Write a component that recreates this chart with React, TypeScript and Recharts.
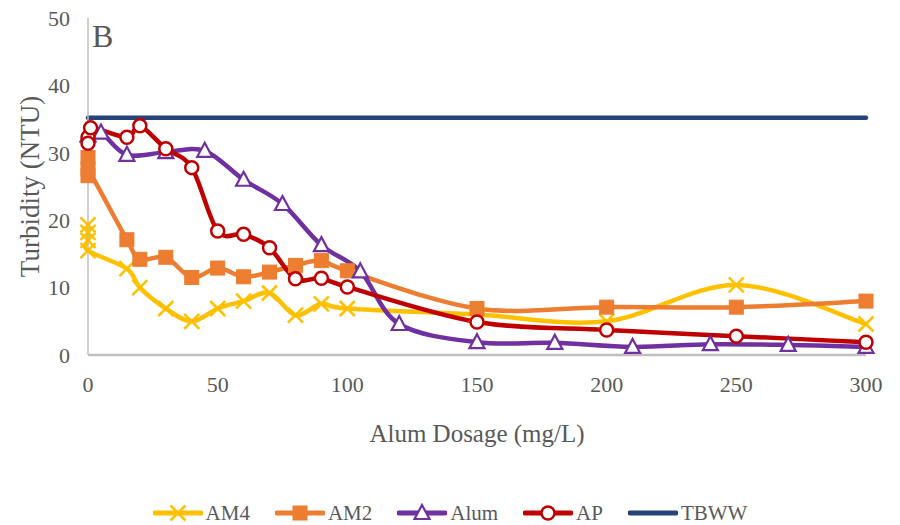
import { Legend, Line, LineChart, XAxis, YAxis } from 'recharts'

const FONT = '"Liberation Serif", "Times New Roman", serif'
const TEXT = '#595959'

// Alum dosage (mg/L) and turbidity (NTU) per series; repeated 0 doses are replicate readings.
const am4Dose = [0, 0, 0, 0, 15, 20, 30, 40, 50, 60, 70, 80, 90, 100, 150, 200, 250, 300]
const am4Turb = [19.3, 18.2, 17.0, 15.5, 12.8, 10.0, 6.9, 5.0, 6.9, 8.0, 9.2, 5.9, 7.6, 6.9, 6.0, 5.0, 10.4, 4.6]

const am2Dose = [0, 0, 0, 15, 20, 30, 40, 50, 60, 70, 80, 90, 100, 150, 200, 250, 300]
const am2Turb = [29.3, 26.6, 27.6, 17.1, 14.2, 14.5, 11.5, 12.9, 11.6, 12.3, 13.3, 14.0, 12.5, 6.9, 7.1, 7.1, 8.0]

const alumDose = [0, 5, 15, 30, 45, 60, 75, 90, 105, 120, 150, 180, 210, 240, 270, 300]
const alumTurb = [32.6, 33.0, 29.7, 30.1, 30.3, 26.0, 22.4, 16.3, 12.4, 4.6, 1.9, 1.8, 1.2, 1.6, 1.5, 1.2]

const apDose = [0, 0, 1, 15, 20, 30, 40, 50, 60, 70, 80, 90, 100, 150, 200, 250, 300]
const apTurb = [32.3, 31.4, 33.7, 32.3, 34.0, 30.6, 27.8, 18.4, 17.9, 15.9, 11.3, 11.4, 10.1, 4.9, 3.7, 2.8, 1.9]

const tbwwDose = [0, 300]
const tbwwTurb = [35.2, 35.2]

const xTicks = [0, 50, 100, 150, 200, 250, 300]
const yTicks = [0, 10, 20, 30, 40, 50]

const toRows = (xs: number[], ys: number[]) => xs.map((x, i) => ({ x, y: ys[i] }))

type Marker = 'x' | 'square' | 'triangle' | 'circle' | 'none'

const SERIES = [
  { name: 'AM4', color: '#FFC000', marker: 'x' as Marker, data: toRows(am4Dose, am4Turb) },
  { name: 'AM2', color: '#ED7D31', marker: 'square' as Marker, data: toRows(am2Dose, am2Turb) },
  { name: 'Alum', color: '#7030A0', marker: 'triangle' as Marker, data: toRows(alumDose, alumTurb) },
  { name: 'AP', color: '#C00000', marker: 'circle' as Marker, data: toRows(apDose, apTurb) },
  { name: 'TBWW', color: '#264478', marker: 'none' as Marker, data: toRows(tbwwDose, tbwwTurb) },
]

// Excel-like smoothing (uniform Catmull-Rom), handed to Recharts as a d3 curve factory.
function smoothCurve(context: any) {
  let pts: [number, number][] = []
  return {
    areaStart() {},
    areaEnd() {},
    lineStart() {
      pts = []
    },
    point(x: number, y: number) {
      pts.push([+x, +y])
    },
    lineEnd() {
      const n = pts.length
      if (!n) return
      context.moveTo(pts[0][0], pts[0][1])
      for (let i = 0; i < n - 1; i++) {
        const p0 = pts[i - 1] || pts[i]
        const p1 = pts[i]
        const p2 = pts[i + 1]
        const p3 = pts[i + 2] || p2
        context.bezierCurveTo(
          p1[0] + (p2[0] - p0[0]) / 6,
          p1[1] + (p2[1] - p0[1]) / 6,
          p2[0] - (p3[0] - p1[0]) / 6,
          p2[1] - (p3[1] - p1[1]) / 6,
          p2[0],
          p2[1],
        )
      }
    },
  }
}

function MarkerShape({ kind, color, cx, cy }: { kind: Marker; color: string; cx: number; cy: number }) {
  if (kind === 'x') {
    const s = 7.5
    return (
      <g stroke={color} strokeWidth={2.5}>
        <line x1={cx - s} y1={cy - s} x2={cx + s} y2={cy + s} />
        <line x1={cx - s} y1={cy + s} x2={cx + s} y2={cy - s} />
      </g>
    )
  }
  if (kind === 'square') {
    return <rect x={cx - 7} y={cy - 7} width={14} height={14} fill={color} stroke={color} strokeWidth={1} />
  }
  if (kind === 'triangle') {
    return (
      <path
        d={`M${cx},${cy - 8} L${cx + 7.5},${cy + 6} L${cx - 7.5},${cy + 6} Z`}
        fill="#fff"
        stroke={color}
        strokeWidth={2.2}
        strokeLinejoin="miter"
      />
    )
  }
  if (kind === 'circle') {
    return <circle cx={cx} cy={cy} r={6.5} fill="#fff" stroke={color} strokeWidth={2.5} />
  }
  return null
}

function LegendContent() {
  return (
    <div
      style={{
        height: 24,
        display: 'flex',
        justifyContent: 'center',
        alignItems: 'center',
        gap: 25,
        fontFamily: FONT,
        fontSize: 21,
        color: TEXT,
      }}
    >
      {SERIES.map((s) => (
        <div key={s.name} style={{ display: 'flex', alignItems: 'center', gap: 3 }}>
          <svg width={50} height={20}>
            <line x1={2} y1={10} x2={48} y2={10} stroke={s.color} strokeWidth={5} strokeLinecap="round" />
            <MarkerShape kind={s.marker} color={s.color} cx={25} cy={10} />
          </svg>
          <span>{s.name}</span>
        </div>
      ))}
    </div>
  )
}

export default function App() {
  const tick = { fill: TEXT, fontSize: 22, fontFamily: FONT }
  return (
    <div style={{ position: 'absolute', left: 0, top: 0, width: 900, height: 525, background: '#fff' }}>
      <LineChart width={900} height={525} margin={{ top: 18, right: 34, left: 0, bottom: 0 }}>
        <XAxis
          type="number"
          dataKey="x"
          domain={[0, 300]}
          ticks={xTicks}
          tick={tick}
          tickLine={false}
          tickSize={0}
          tickMargin={21}
          height={146}
          axisLine={{ stroke: '#BFBFBF', strokeWidth: 2.5 }}
          label={({ viewBox }: any) => (
            <text
              x={viewBox.x + viewBox.width / 2}
              y={viewBox.y + 78}
              textAnchor="middle"
              dominantBaseline="central"
              fill={TEXT}
              fontSize={25}
              fontFamily={FONT}
            >
              Alum Dosage (mg/L)
            </text>
          )}
        />
        <YAxis
          type="number"
          dataKey="y"
          domain={[0, 50]}
          ticks={yTicks}
          tick={tick}
          tickLine={false}
          tickSize={0}
          tickMargin={18}
          width={88}
          axisLine={{ stroke: '#BFBFBF', strokeWidth: 1.5 }}
          label={({ viewBox }: any) => {
            const cy = viewBox.y + viewBox.height / 2
            return (
              <text
                x={30}
                y={cy}
                transform={`rotate(-90, 30, ${cy})`}
                textAnchor="middle"
                dominantBaseline="central"
                fill={TEXT}
                fontSize={27}
                fontFamily={FONT}
              >
                Turbidity (NTU)
              </text>
            )
          }}
        />
        <Legend
          verticalAlign="bottom"
          height={24}
          wrapperStyle={{ left: 0, width: 900 }}
          content={() => <LegendContent />}
        />
        {SERIES.map((s) => (
          <Line
            key={s.name}
            name={s.name}
            data={s.data}
            dataKey="y"
            type={smoothCurve as any}
            stroke={s.color}
            strokeWidth={4.5}
            strokeLinejoin="round"
            strokeLinecap="round"
            isAnimationActive={false}
            dot={
              s.marker === 'none'
                ? false
                : (p: any) => (
                    <MarkerShape key={`${s.name}-${p.index}`} kind={s.marker} color={s.color} cx={p.cx} cy={p.cy} />
                  )
            }
            activeDot={false}
          />
        ))}
      </LineChart>
      <svg width={900} height={60} style={{ position: 'absolute', left: 0, top: 0, pointerEvents: 'none' }}>
        <text x={92} y={47} fontSize={32} fontFamily={FONT} fill={TEXT}>
          B
        </text>
      </svg>
    </div>
  )
}
